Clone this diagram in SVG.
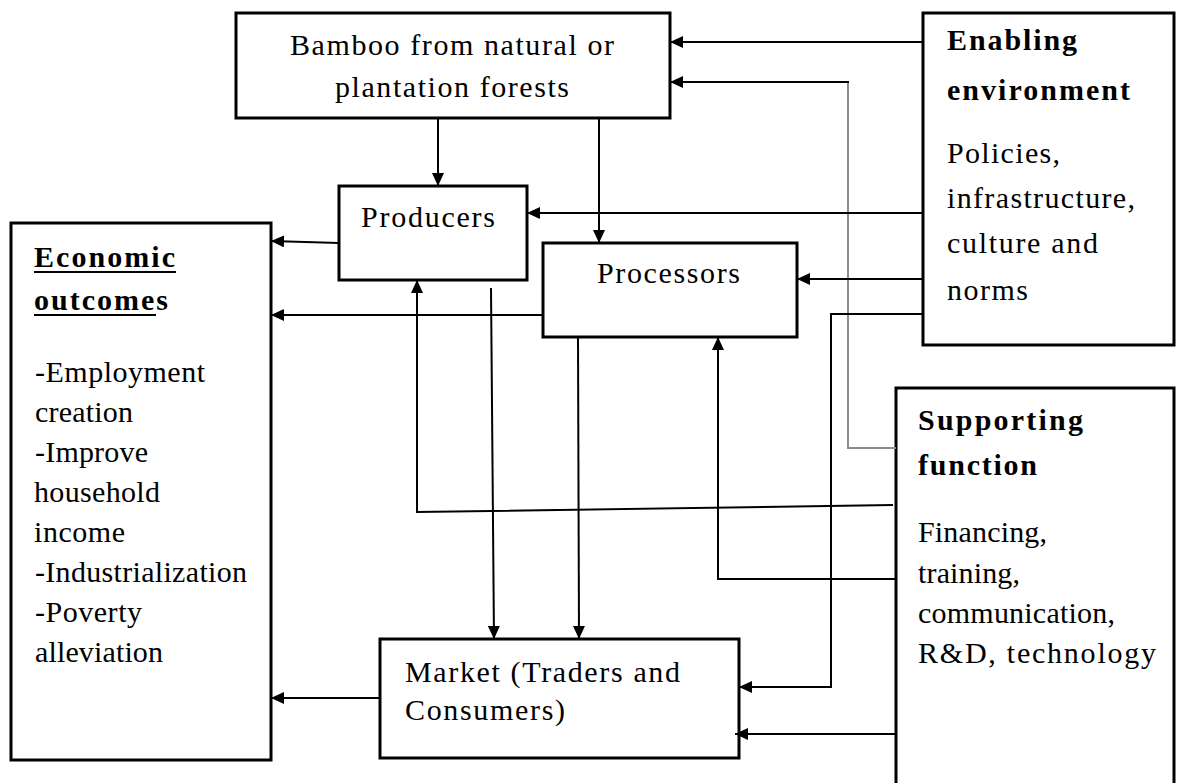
<svg xmlns="http://www.w3.org/2000/svg" width="1180" height="783" viewBox="0 0 1180 783">
<style>
.box{fill:#fff;stroke:#000;stroke-width:3}
.t{font-family:"Liberation Serif","Times New Roman",serif;font-size:30px;fill:#000}
.b{font-weight:bold}
.c{fill:none;stroke:#000;stroke-width:2}
.a{marker-end:url(#ah)}
.g{stroke:#8c8c8c}
.u{stroke:#000;stroke-width:2}
</style>
<defs>
<marker id="ah" markerUnits="userSpaceOnUse" markerWidth="13" markerHeight="12" refX="13" refY="6" orient="auto">
<path d="M0,0 L13,6 L0,12 z" fill="#000"/>
</marker>
</defs>
<rect width="1180" height="783" fill="#fff"/>

<g id="bamboo">
<rect class="box" x="236" y="13" width="434" height="105"/>
<text class="t" x="290" y="55" textLength="324" lengthAdjust="spacing">Bamboo from natural or</text>
<text class="t" x="335" y="97" textLength="234" lengthAdjust="spacing">plantation forests</text>
</g>

<g id="enabling">
<rect class="box" x="923" y="13" width="251" height="332"/>
<text class="t b" x="947" y="50" textLength="130" lengthAdjust="spacing">Enabling</text>
<text class="t b" x="947" y="100" textLength="183" lengthAdjust="spacing">environment</text>
<text class="t" x="947" y="163" textLength="113" lengthAdjust="spacing">Policies,</text>
<text class="t" x="947" y="208" textLength="188" lengthAdjust="spacing">infrastructure,</text>
<text class="t" x="947" y="253" textLength="151" lengthAdjust="spacing">culture and</text>
<text class="t" x="947" y="300" textLength="81" lengthAdjust="spacing">norms</text>
</g>

<g id="producers">
<rect class="box" x="339" y="186" width="188" height="94"/>
<text class="t" x="361" y="227" textLength="134" lengthAdjust="spacing">Producers</text>
</g>

<g id="processors">
<rect class="box" x="543" y="243" width="254" height="94"/>
<text class="t" x="597" y="283" textLength="143" lengthAdjust="spacing">Processors</text>
</g>

<g id="economic">
<rect class="box" x="11" y="223" width="260" height="537"/>
<text class="t b" x="34" y="267" textLength="141" lengthAdjust="spacing">Economic</text>
<line class="u" x1="34" y1="272" x2="176" y2="272"/>
<text class="t b" x="34" y="310" textLength="134" lengthAdjust="spacing">outcomes</text>
<line class="u" x1="34" y1="315" x2="156" y2="315"/>
<text class="t" x="35" y="382" textLength="170" lengthAdjust="spacing">-Employment</text>
<text class="t" x="35" y="422" textLength="98" lengthAdjust="spacing">creation</text>
<text class="t" x="35" y="462" textLength="113" lengthAdjust="spacing">-Improve</text>
<text class="t" x="34" y="502" textLength="126" lengthAdjust="spacing">household</text>
<text class="t" x="34" y="542" textLength="91" lengthAdjust="spacing">income</text>
<text class="t" x="35" y="582" textLength="212" lengthAdjust="spacing">-Industrialization</text>
<text class="t" x="35" y="622" textLength="107" lengthAdjust="spacing">-Poverty</text>
<text class="t" x="35" y="662" textLength="128" lengthAdjust="spacing">alleviation</text>
</g>

<g id="supporting">
<rect class="box" x="896" y="388" width="278" height="410"/>
<text class="t b" x="918" y="430" textLength="165" lengthAdjust="spacing">Supporting</text>
<text class="t b" x="918" y="475" textLength="119" lengthAdjust="spacing">function</text>
<text class="t" x="918" y="542" textLength="129" lengthAdjust="spacing">Financing,</text>
<text class="t" x="918" y="583" textLength="102" lengthAdjust="spacing">training,</text>
<text class="t" x="918" y="623" textLength="197" lengthAdjust="spacing">communication,</text>
<text class="t" x="918" y="663" textLength="238" lengthAdjust="spacing">R&amp;D, technology</text>
</g>

<g id="market">
<rect class="box" x="380" y="639" width="359" height="119"/>
<text class="t" x="405" y="682" textLength="275" lengthAdjust="spacing">Market (Traders and</text>
<text class="t" x="405" y="720" textLength="160" lengthAdjust="spacing">Consumers)</text>
</g>

<g id="connectors">
<path class="c a" d="M923,42 H670"/>
<path class="c g" d="M896,448 H848 V82"/>
<path class="c a" d="M849,82 H670"/>
<path class="c a" d="M438,118 V186"/>
<path class="c a" d="M599,118 V243"/>
<path class="c a" d="M923,213 H527"/>
<path class="c a" d="M923,279 H797"/>
<path class="c a" d="M923,314 H831 V687 H739"/>
<path class="c a" d="M543,315 H271"/>
<path class="c a" d="M339,243 L271,241"/>
<path class="c a" d="M380,698 H271"/>
<path class="c a" d="M491,288 L494,639"/>
<path class="c a" d="M578,337 L579,639"/>
<path class="c a" d="M893,505 L417,512 V280"/>
<path class="c a" d="M896,579 H718 V337"/>
<path class="c a" d="M896,734 H735"/>
</g>
</svg>
